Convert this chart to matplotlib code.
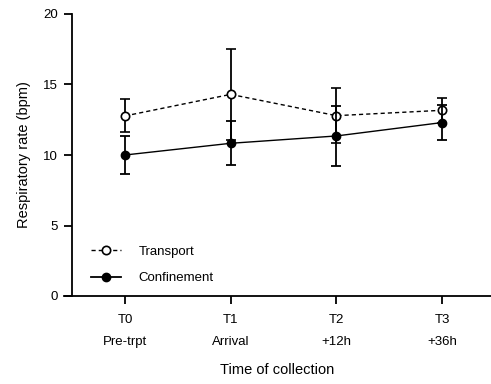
import matplotlib
matplotlib.use("Agg")
import matplotlib.pyplot as plt
from matplotlib.lines import Line2D
import numpy as np

plt.rcParams['font.family'] = ['Liberation Sans', 'DejaVu Sans']

categories = ["T0\nPre-trpt", "T1\nArrival", "T2\n+12h", "T3\n+36h"]
transport_mean = [12.77, 14.3, 12.79, 13.17]
transport_sd = [1.17, 3.25, 1.95, 0.9]
confinement_mean = [10.0, 10.83, 11.35, 12.3]
confinement_sd = [1.35, 1.57, 2.11, 1.24]

fig = plt.figure(figsize=(4.91, 3.84), dpi=100)
ax = fig.add_axes([64/491, 88/384, 427/491, 282/384])
x = np.arange(len(categories))

dash = (0, (3, 2.2))
ax.errorbar(x, transport_mean, yerr=transport_sd, color='black', linestyle=dash,
            linewidth=1.0, marker='o', markersize=6, markerfacecolor='white',
            markeredgecolor='black', markeredgewidth=1.2, capsize=3.5, elinewidth=1.3,
            capthick=1.3, zorder=3)
ax.errorbar(x, confinement_mean, yerr=confinement_sd, color='black', linestyle='-',
            linewidth=1.0, marker='o', markersize=6, markerfacecolor='black',
            markeredgecolor='black', capsize=3.5, elinewidth=1.3, capthick=1.3,
            zorder=4)

ax.set_xlim(-0.577, 3.464)
ax.set_ylim(0, 20)
ax.set_yticks([0, 5, 10, 15, 20])
ax.set_xticks(x)
ax.set_xticklabels(categories, linespacing=2.1)
ax.spines['top'].set_visible(False)
ax.spines['right'].set_visible(False)
ax.spines['left'].set_position(('data', -0.5))
ax.spines['left'].set_linewidth(1.3)
ax.spines['bottom'].set_linewidth(1.3)
ax.tick_params(axis='both', length=6, width=1.3, labelsize=9.5, colors='black')
ax.tick_params(axis='x', pad=7)
ax.tick_params(axis='y', pad=4)

ax.set_ylabel('Respiratory rate (bpm)', fontsize=10.5, labelpad=9)
ax.set_xlabel('Time of collection', fontsize=10.5, labelpad=11)

handles = [
    Line2D([], [], color='black', linestyle=dash, linewidth=1.0, marker='o', markersize=6,
           markerfacecolor='white', markeredgecolor='black', markeredgewidth=1.2),
    Line2D([], [], color='black', linestyle='-', linewidth=1.3, marker='o', markersize=6,
           markerfacecolor='black', markeredgecolor='black'),
]
leg = ax.legend(handles, ['Transport', 'Confinement'], loc='lower left',
                bbox_to_anchor=(0.035, 0.0), frameon=False, fontsize=9.5,
                handlelength=2.3, handletextpad=1.3, labelspacing=1.05)

fig.savefig('out.png', dpi=100)
